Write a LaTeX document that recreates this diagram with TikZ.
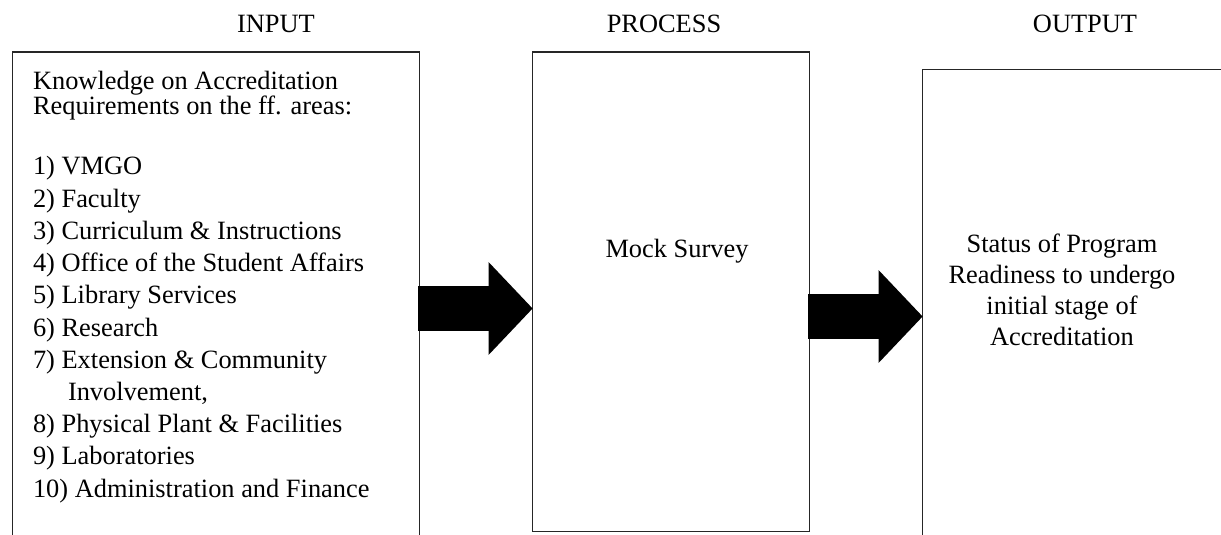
\documentclass[tikz,border=0pt]{standalone}
\usepackage{fontspec}
\setmainfont{Liberation Serif}
\usetikzlibrary{arrows.meta}
\tikzset{
  box/.style={draw=black!85, line width=0.65pt, inner sep=0pt, outer sep=0pt},
  txt/.style={inner sep=0pt, outer sep=0pt, anchor=base west, font=\fontsize{13.2}{15}\selectfont},
  ctxt/.style={inner sep=0pt, outer sep=0pt, anchor=base, font=\fontsize{13.2}{15}\selectfont},
  bigarrow/.style={line width=22.5pt, line cap=butt, -{Triangle[length=22pt, width=45pt]}}
}
\begin{document}
\begin{tikzpicture}[x=0.5pt,y=-0.5pt]
\useasboundingbox (0,0) rectangle (1221,535);
\clip (0,0) rectangle (1221,535);
% headers
\node[ctxt] (hin) at (276,33) {INPUT};
\node[ctxt] (hpr) at (664,33) {PROCESS};
\node[ctxt] (hout) at (1085,33) {OUTPUT};
% boxes
\node[box, minimum width=203.3pt, minimum height=254pt] (inp) at (216,306) {};
\node[box, minimum width=138.3pt, minimum height=239.65pt] (proc) at (671,291.65) {};
\node[box, minimum width=158.65pt, minimum height=245.35pt] (out) at (1081.35,314.65) {};
% input text
\node[txt] (k1) at (33,90) {Knowledge on Accreditation};
\node[txt] (k2) at (33,115) {Requirements on the ff. areas:};
\foreach \t [count=\i] in {1) VMGO, 2) Faculty, 3) Curriculum \& Instructions,
  4) Office of the Student Affairs, 5) Library Services, 6) Research,
  7) Extension \& Community, {\hspace*{17.5pt}Involvement,},
  8) Physical Plant \& Facilities, 9) Laboratories, 10) Administration and Finance}
  \node[txt] (l\i) at (33,{175+(\i-1)*32.2}) {\t};
% process text
\node[ctxt] (mock) at (677,257) {Mock Survey};
% output text
\node[ctxt] (o1) at (1062,252) {Status of Program};
\node[ctxt] (o2) at (1062,283) {Readiness to undergo};
\node[ctxt] (o3) at (1062,314) {initial stage of};
\node[ctxt] (o4) at (1062,345) {Accreditation};
% arrows
\coordinate (a1) at (418,308.5);
\coordinate (a2) at (808,316.5);
\draw[bigarrow] (a1) -- (proc.west |- a1);
\draw[bigarrow] (a2) -- (out.west |- a2);
\end{tikzpicture}
\end{document}
